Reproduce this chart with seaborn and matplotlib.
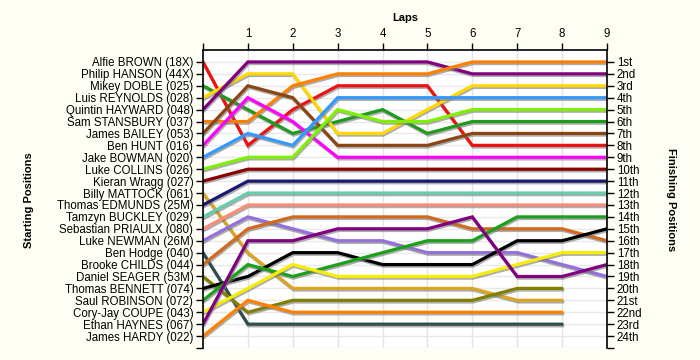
import numpy as np
import pandas as pd
import matplotlib
matplotlib.use("Agg")
import matplotlib.pyplot as plt
import matplotlib.patheffects as pe
import seaborn as sns

# starting grid order (top to bottom)
drivers = [
    "Alfie BROWN (18X)", "Philip HANSON (44X)", "Mikey DOBLE (025)", "Luis REYNOLDS (028)",
    "Quintin HAYWARD (048)", "Sam STANSBURY (037)", "James BAILEY (053)", "Ben HUNT (016)",
    "Jake BOWMAN (020)", "Luke COLLINS (026)", "Kieran Wragg (027)", "Billy MATTOCK (061)",
    "Thomas EDMUNDS (25M)", "Tamzyn BUCKLEY (029)", "Sebastian PRIAULX (080)", "Luke NEWMAN (26M)",
    "Ben Hodge (040)", "Brooke CHILDS (044)", "Daniel SEAGER (53M)", "Thomas BENNETT (074)",
    "Saul ROBINSON (072)", "Cory-Jay COUPE (043)", "Ethan HAYNES (067)", "James HARDY (022)",
]
finish_labels = ["1st", "2nd", "3rd"] + [f"{i}th" for i in range(4, 21)] + ["21st", "22nd", "23rd", "24th"]
laps = list(range(10))

# position at each lap (lap 0 = grid); None = not running
positions = {
    "Alfie BROWN (18X)":       [1, 8, 5, 3, 3, 3, 8, 8, 8, 8],
    "Mikey DOBLE (025)":       [3, 5, 7, 6, 5, 7, 6, 6, 6, 6],
    "Luis REYNOLDS (028)":     [4, 2, 2, 7, 7, 5, 3, 3, 3, 3],
    "Quintin HAYWARD (048)":   [5, 1, 1, 1, 1, 1, 2, 2, 2, 2],
    "Sam STANSBURY (037)":     [6, 6, 3, 2, 2, 2, 1, 1, 1, 1],
    "James BAILEY (053)":      [7, 3, 4, 8, 8, 8, 7, 7, 7, 7],
    "Ben HUNT (016)":          [8, 4, 6, 9, 9, 9, 9, 9, 9, 9],
    "Jake BOWMAN (020)":       [9, 7, 8, 4, 4, 4, 4, 4, 4, 4],
    "Luke COLLINS (026)":      [10, 9, 9, 5, 6, 6, 5, 5, 5, 5],
    "Kieran Wragg (027)":      [11, 10, 10, 10, 10, 10, 10, 10, 10, 10],
    "Billy MATTOCK (061)":     [12, 17, 20, 20, 20, 20, 20, 21, 21, None],
    "Thomas EDMUNDS (25M)":    [13, 11, 11, 11, 11, 11, 11, 11, 11, 11],
    "Tamzyn BUCKLEY (029)":    [14, 12, 12, 12, 12, 12, 12, 12, 12, 12],
    "Sebastian PRIAULX (080)": [15, 13, 13, 13, 13, 13, 13, 13, 13, 13],
    "Luke NEWMAN (26M)":       [16, 14, 15, 16, 16, 17, 17, 17, 18, 19],
    "Ben Hodge (040)":         [17, 23, 23, 23, 23, 23, 23, 23, 23, None],
    "Brooke CHILDS (044)":     [18, 15, 14, 14, 14, 14, 15, 15, 15, 16],
    "Daniel SEAGER (53M)":     [19, 22, 21, 21, 21, 21, 21, 20, 20, None],
    "Thomas BENNETT (074)":    [20, 19, 17, 17, 18, 18, 18, 16, 16, 15],
    "Saul ROBINSON (072)":     [21, 18, 19, 18, 17, 16, 16, 14, 14, 14],
    "Cory-Jay COUPE (043)":    [22, 20, 18, 19, 19, 19, 19, 18, 17, 17],
    "Ethan HAYNES (067)":      [23, 16, 16, 15, 15, 15, 14, 19, 19, 18],
    "James HARDY (022)":       [24, 21, 22, 22, 22, 22, 22, 22, 22, None],
}

colours = {
    "Alfie BROWN (18X)": "#ee1111",
    "Mikey DOBLE (025)": "#1e9a1e",
    "Luis REYNOLDS (028)": "#ffd800",
    "Quintin HAYWARD (048)": "#800080",
    "Sam STANSBURY (037)": "#ff8000",
    "James BAILEY (053)": "#8b4513",
    "Ben HUNT (016)": "#ff00ff",
    "Jake BOWMAN (020)": "#3399ff",
    "Luke COLLINS (026)": "#80f000",
    "Kieran Wragg (027)": "#8b0000",
    "Billy MATTOCK (061)": "#daa520",
    "Thomas EDMUNDS (25M)": "#191970",
    "Tamzyn BUCKLEY (029)": "#66cdaa",
    "Sebastian PRIAULX (080)": "#fa8c78",
    "Luke NEWMAN (26M)": "#9370db",
    "Ben Hodge (040)": "#2f4f4f",
    "Brooke CHILDS (044)": "#d2691e",
    "Daniel SEAGER (53M)": "#808000",
    "Thomas BENNETT (074)": "#000000",
    "Saul ROBINSON (072)": "#1aa01a",
    "Cory-Jay COUPE (043)": "#f5ee00",
    "Ethan HAYNES (067)": "#800080",
    "James HARDY (022)": "#ff8000",
}

rows = []
for name, pos in positions.items():
    for lap, p in zip(laps, pos):
        if p is not None:
            rows.append({"driver": name, "lap": lap, "pos": p})
df = pd.DataFrame(rows)

sns.set_style("white")
plt.rcParams["font.family"] = ["Liberation Sans", "DejaVu Sans"]
plt.rcParams["text.color"] = "black"
plt.rcParams["xtick.color"] = "black"
plt.rcParams["ytick.color"] = "black"

bg = "#fefef4"
fig = plt.figure(figsize=(7, 3.6), dpi=100, facecolor=bg)
ax = fig.add_axes([203 / 700, 12 / 360, 404 / 700, 298 / 360])
ax.set_facecolor("white")

# light grid
for x in laps:
    ax.axvline(x, color="#e4e4e4", lw=1, zorder=0)
for y in range(1, 26):
    ax.axhline(y, color="#e8e8e8", lw=1, zorder=0)

sns.lineplot(data=df, x="lap", y="pos", hue="driver", palette=colours,
             estimator=None, sort=False, lw=2.3, legend=False, ax=ax,
             hue_order=list(colours.keys()))
for line in ax.get_lines()[-len(colours):]:
    line.set_path_effects([pe.SimpleLineShadow(offset=(0.6, -1.2), shadow_color="#777777", alpha=0.6),
                           pe.Normal()])
    line.set_solid_joinstyle("miter")

ax.set_xlim(0, 9)
ax.set_ylim(25, 0)

ax.xaxis.tick_top()
ax.set_xticks(laps)
ax.set_xticklabels([""] + [str(l) for l in laps[1:]])
ax.set_xlabel("")
ax.set_ylabel("")
ax.set_yticks(range(1, 26))
ax.set_yticklabels(drivers + [""])

ax2 = ax.twinx()
ax2.set_ylim(25, 0)
ax2.set_yticks(range(1, 26))
ax2.set_yticklabels(finish_labels + [""])

for a in (ax, ax2):
    for s in a.spines.values():
        s.set_visible(False)
    a.tick_params(axis="both", which="major", length=5, width=1, color="black",
                  labelcolor="black", labelsize=8.3, pad=2, direction="out")
ax.spines["left"].set_visible(True)
ax.spines["top"].set_visible(True)
ax2.spines["right"].set_visible(True)
for s in ("left", "top"):
    ax.spines[s].set_color("black")
    ax.spines[s].set_linewidth(1.2)
ax2.spines["right"].set_color("black")
ax2.spines["right"].set_linewidth(1.2)

fig.text(405 / 700, 1 - 18 / 360, "Laps", ha="center", va="center", fontsize=8,
         fontweight="bold", color="black")
fig.text(29 / 700, 1 - 200 / 360, "Starting Positions", ha="center", va="center",
         rotation=90, fontsize=8, fontweight="bold", color="black")
fig.text(671 / 700, 1 - 200 / 360, "Finishing Positions", ha="center", va="center",
         rotation=270, fontsize=8, fontweight="bold", color="black")

fig.savefig("out.png", dpi=100, facecolor=bg)
